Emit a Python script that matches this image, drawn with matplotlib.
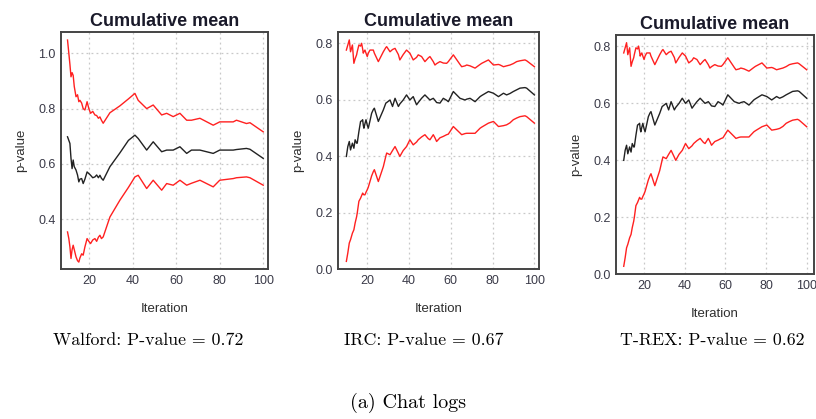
import matplotlib
matplotlib.use("Agg")
import matplotlib.pyplot as plt

# ---------------- data ----------------
walford_iter = [10, 10.6, 11.1, 11.6, 12.1, 12.6, 13.1, 13.9, 14.6, 15.2, 15.7, 16.5, 17.2, 18, 19, 19.8, 20.6, 21.6,
                22.6, 23.4, 24.2, 24.9, 25.6, 26.4, 29.5, 34.1, 38, 41, 42.5, 46.4, 49.4, 53.3, 55.6, 58.6, 61.7,
                64.8, 67, 70.9, 77, 80, 86.2, 87.7, 92.3, 93.9, 100]
walford_upper = [1.048, 1.00, 0.96, 0.915, 0.93, 0.92, 0.88, 0.843, 0.85, 0.825, 0.83, 0.82, 0.80, 0.795, 0.825,
                 0.80, 0.783, 0.79, 0.777, 0.775, 0.765, 0.77, 0.758, 0.747, 0.785, 0.81, 0.835, 0.855, 0.83, 0.80,
                 0.813, 0.777, 0.783, 0.771, 0.783, 0.758, 0.758, 0.765, 0.74, 0.752, 0.752, 0.758, 0.746, 0.749,
                 0.716]
walford_mean = [0.698, 0.685, 0.674, 0.62, 0.583, 0.614, 0.59, 0.578, 0.56, 0.535, 0.545, 0.547, 0.529, 0.545, 0.571,
                0.565, 0.559, 0.55, 0.553, 0.56, 0.55, 0.559, 0.548, 0.541, 0.59, 0.64, 0.685, 0.704, 0.692, 0.650,
                0.680, 0.644, 0.650, 0.650, 0.662, 0.638, 0.650, 0.650, 0.638, 0.650, 0.650, 0.652, 0.656, 0.653,
                0.620]
walford_lower = [0.354, 0.33, 0.30, 0.258, 0.29, 0.306, 0.29, 0.264, 0.25, 0.245, 0.26, 0.275, 0.27, 0.30, 0.33,
                 0.32, 0.312, 0.325, 0.33, 0.32, 0.335, 0.342, 0.33, 0.336, 0.408, 0.469, 0.515, 0.553, 0.559, 0.511,
                 0.541, 0.505, 0.529, 0.523, 0.541, 0.523, 0.53, 0.541, 0.517, 0.541, 0.547, 0.55, 0.553, 0.55,
                 0.523]

irc_iter = [10, 10.7, 11.4, 12, 12.9, 13.6, 14.2, 14.9, 15.2, 16, 16.8, 17.3, 17.8, 18.1, 18.4, 18.9, 19.4, 20,
            20.5, 21.3, 22.1, 22.9, 23.4, 25.3, 27.7, 28.9, 29.3, 30.9, 32.1, 33.3, 34.9, 35.6, 37.2, 38.8, 40.4,
            42, 43.6, 44.4, 46, 47.6, 49.2, 50, 51.6, 52.4, 53.2, 54.8, 56.4, 58, 58.8, 61.2, 64.4, 65.2, 66.8,
            67.6, 69.2, 71.6, 74, 74.8, 78, 80.4, 82.8, 83.6, 85.2, 86.7, 88.3, 89.9, 91.5, 93.1, 95.5, 96.3, 100]
irc_upper = [0.776, 0.794, 0.812, 0.77, 0.794, 0.729, 0.745, 0.759, 0.77, 0.794, 0.79, 0.80, 0.78, 0.765, 0.77,
             0.776, 0.765, 0.753, 0.765, 0.776, 0.776, 0.776, 0.765, 0.735, 0.77, 0.785, 0.788, 0.770, 0.778,
             0.782, 0.76, 0.741, 0.76, 0.776, 0.765, 0.741, 0.75, 0.759, 0.753, 0.735, 0.748, 0.753, 0.735, 0.723,
             0.728, 0.735, 0.73, 0.729, 0.735, 0.759, 0.725, 0.717, 0.72, 0.723, 0.72, 0.712, 0.725, 0.729, 0.741,
             0.723, 0.725, 0.723, 0.717, 0.72, 0.723, 0.728, 0.735, 0.738, 0.741, 0.738, 0.717]
irc_mean = [0.399, 0.434, 0.452, 0.422, 0.446, 0.428, 0.458, 0.446, 0.446, 0.487, 0.523, 0.525, 0.529, 0.51, 0.499,
            0.515, 0.529, 0.51, 0.499, 0.525, 0.552, 0.565, 0.570, 0.523, 0.564, 0.588, 0.59, 0.599, 0.576, 0.605,
            0.576, 0.585, 0.599, 0.617, 0.599, 0.611, 0.582, 0.59, 0.605, 0.617, 0.605, 0.599, 0.605, 0.598, 0.59,
            0.588, 0.605, 0.598, 0.593, 0.629, 0.605, 0.603, 0.599, 0.602, 0.605, 0.593, 0.611, 0.615, 0.629,
            0.623, 0.611, 0.615, 0.623, 0.617, 0.622, 0.629, 0.635, 0.641, 0.643, 0.641, 0.617]
irc_lower = [0.027, 0.057, 0.092, 0.104, 0.127, 0.139, 0.163, 0.185, 0.198, 0.24, 0.251, 0.26, 0.269, 0.265, 0.263,
             0.263, 0.272, 0.281, 0.29, 0.310, 0.33, 0.345, 0.352, 0.310, 0.363, 0.40, 0.411, 0.405, 0.42, 0.434,
             0.41, 0.399, 0.42, 0.434, 0.458, 0.440, 0.45, 0.458, 0.468, 0.476, 0.462, 0.458, 0.476, 0.465, 0.452,
             0.465, 0.470, 0.476, 0.478, 0.505, 0.482, 0.476, 0.48, 0.481, 0.481, 0.481, 0.499, 0.503, 0.517,
             0.523, 0.505, 0.506, 0.508, 0.511, 0.518, 0.529, 0.535, 0.540, 0.543, 0.540, 0.517]

trex_iter = list(irc_iter)
trex_upper = list(irc_upper)
trex_mean = list(irc_mean)
trex_lower = list(irc_lower)

panel_titles = ["Cumulative mean"] * 3
captions = ["Walford: P-value = 0.72", "IRC: P-value = 0.67", "T-REX: P-value = 0.62"]
figure_caption = "(a) Chat logs"
x_ticks = [20, 40, 60, 80, 100]
y_ticks_walford = [0.4, 0.6, 0.8, 1.0]
y_ticks_other = [0.0, 0.2, 0.4, 0.6, 0.8]

# ---------------- drawing ----------------
W, H = 816, 419
fig = plt.figure(figsize=(W / 100, H / 100), dpi=100)
fig.patch.set_facecolor("white")

def rect(l, r, t, b):
    return [l / W, 1 - b / H, (r - l) / W, (b - t) / H]

panels = [
    (rect(61, 268, 32, 269), walford_iter, walford_upper, walford_mean, walford_lower,
     y_ticks_walford, (0.22, 1.077), (7.0, 102.2)),
    (rect(338, 539, 32, 269), irc_iter, irc_upper, irc_mean, irc_lower,
     y_ticks_other, (0.0, 0.84), (6.0, 102.2)),
    (rect(616, 814, 35, 274), trex_iter, trex_upper, trex_mean, trex_lower,
     y_ticks_other, (0.0, 0.839), (6.2, 103.6)),
]

label_color = "#2e2e2e"
tick_color = "#3a3a48"
for i, (pos, it, up, mn, lo, yt, ylim, xlim) in enumerate(panels):
    ax = fig.add_axes(pos)
    ax.plot(it, up, color="#ff2020", lw=1.0)
    ax.plot(it, mn, color="#222222", lw=1.0)
    ax.plot(it, lo, color="#ff2020", lw=1.0)
    ax.set_xlim(*xlim)
    ax.set_ylim(*ylim)
    ax.set_xticks(x_ticks)
    ax.set_yticks(yt)
    ax.set_xticklabels([str(v) for v in x_ticks])
    ax.set_yticklabels([f"{v:.1f}" for v in yt])
    ax.grid(True, color="#c8c8c8", linestyle=(0, (1.5, 2.5)), linewidth=0.9)
    ax.set_axisbelow(True)
    ax.tick_params(length=0, pad=4, labelsize=9, labelcolor=tick_color)
    for lab in ax.get_xticklabels() + ax.get_yticklabels():
        lab.set_fontfamily("Liberation Sans")
    for s in ax.spines.values():
        s.set_color("#444444")
        s.set_linewidth(1.4)
    ax.set_title(panel_titles[i], fontsize=13, fontweight="bold",
                 fontfamily="Liberation Sans", color="#1a1a2a", pad=4)
    ax.set_xlabel("Iteration", fontsize=9.5, fontfamily="Liberation Sans", color=label_color, labelpad=12)
    ax.set_ylabel("p-value", fontsize=9.5, fontfamily="Liberation Sans", color=label_color, labelpad=8)

cap_x = [148, 424, 712]
for cx, txt in zip(cap_x, captions):
    fig.text(cx / W, 1 - 340 / H, txt, ha="center", va="center", fontsize=12.8,
             fontfamily="cmr10", color="black")
fig.text(408 / W, 1 - 403 / H, figure_caption, ha="center", va="center", fontsize=14.5,
         fontfamily="cmr10", color="black")

fig.savefig("out.png", dpi=100, facecolor="white")
